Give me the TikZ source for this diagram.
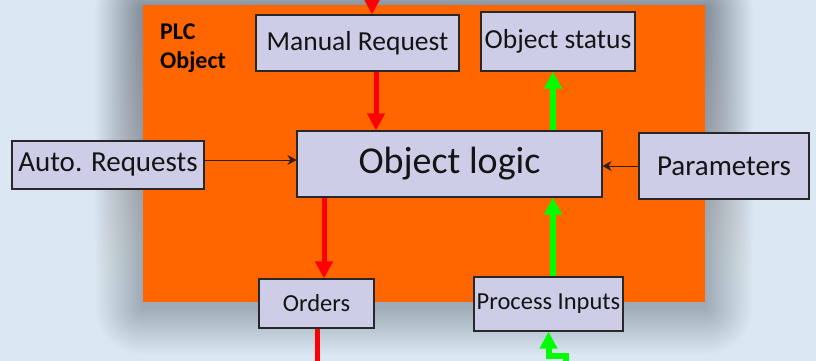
\documentclass[tikz,border=0pt]{standalone}
\usepackage{fontspec}
\setmainfont{Carlito}
\usetikzlibrary{arrows.meta,calc}
\definecolor{bgblue}{RGB}{219,232,244}
\definecolor{plcorange}{RGB}{255,102,0}
\definecolor{boxfill}{RGB}{205,205,232}
\definecolor{boxline}{RGB}{40,40,40}
\definecolor{shade}{RGB}{110,122,130}
\definecolor{sigred}{RGB}{255,0,0}
\definecolor{siggreen}{RGB}{0,255,0}
\definecolor{thinline}{RGB}{45,30,20}
\begin{document}
\begin{tikzpicture}[x=1pt,y=-1pt,
  box/.style={draw=boxline, line width=1.2pt, fill=boxfill, inner sep=0pt, text=black!92},
  redflow/.style={draw=sigred, line width=5pt, -{Triangle[width=17pt,length=17pt]}},
  greenflow/.style={draw=siggreen, line width=6pt, -{Triangle[width=17pt,length=17pt]}},
  redwire/.style={draw=sigred, line width=5pt},
  thinflow/.style={draw=thinline, line width=1pt, -{Stealth[length=9pt,width=10pt,inset=3pt]}},
  midtext/.style={font=\fontsize{27.5}{31}\selectfont},
  bigtext/.style={font=\fontsize{29}{33}\selectfont},
  smalltext/.style={font=\fontsize{24.5}{28}\selectfont}
]
\clip (0,0) rectangle (816,361);
\fill[bgblue] (0,0) rectangle (816,361);

% soft shadow round the PLC frame
\foreach \i in {1,...,30} {
  \fill[shade, opacity=0.0075, rounded corners=1.6*\i pt]
    ({143-1.6*\i},{5-1.6*\i+5}) rectangle ({705+1.6*\i},{302+1.6*\i+5});
}

% PLC object frame
\node[fill=plcorange, inner sep=0pt, minimum width=562pt, minimum height=297pt] (plc) at (424,153.5) {};
\node[font=\bfseries\fontsize{24}{29}\selectfont, align=left, anchor=north west, inner sep=0pt] (lbl) at (160,24) {PLC\\Object};

% blocks
\node[box, midtext, minimum width=203pt, minimum height=56pt] (mr) at (357.5,43) {Manual Request};
\node[box, midtext, minimum width=154pt, minimum height=59pt] (os) at (558,41.5) {Object status};
\node[box, bigtext, minimum width=192pt, minimum height=48pt] (ar) at (108,165) {Auto. Requests};
\node[box, bigtext, minimum width=170pt, minimum height=66pt] (pa) at (724,166) {Parameters};
\node[box, font=\fontsize{38}{42}\selectfont, minimum width=305pt, minimum height=66pt] (ol) at (449.5,164) {Object logic};
\node[box, smalltext, minimum width=115pt, minimum height=49pt] (or) at (316.5,303.5) {Orders};
\node[box, smalltext, minimum width=149pt, minimum height=54pt] (pi) at (548.5,304) {Process Inputs};

% free ends of the connectors
\coordinate (rin) at (372,-20);
\coordinate (rout) at (317,380);
\coordinate (gin) at (566,380);
\coordinate (gbend) at (566,356);

% red (command) flow
\draw[redflow] (rin) -- (rin |- mr.north);
\draw[redflow] ([xshift=18.5pt]mr.south) -- ([xshift=18.5pt]mr.south |- ol.north);
\draw[redflow] ([xshift=7.5pt]or.north |- ol.south) -- ([xshift=7.5pt]or.north);
\draw[redwire] (or.south -| rout) -- (rout);

% green (feedback) flow
\draw[greenflow] ([xshift=103.5pt]ol.north) -- ([xshift=103.5pt]ol.north |- os.south);
\draw[greenflow] ([xshift=4.5pt]pi.north) -- ([xshift=4.5pt]pi.north |- ol.south);
\draw[greenflow] (gin) -- (gbend) -| (pi.south);

% thin inputs
\draw[thinflow] ([yshift=5pt]ar.east) -- ([yshift=5pt]ar.east -| ol.west);
\draw[thinflow] (pa.west) -- (pa.west -| ol.east);
\end{tikzpicture}
\end{document}
